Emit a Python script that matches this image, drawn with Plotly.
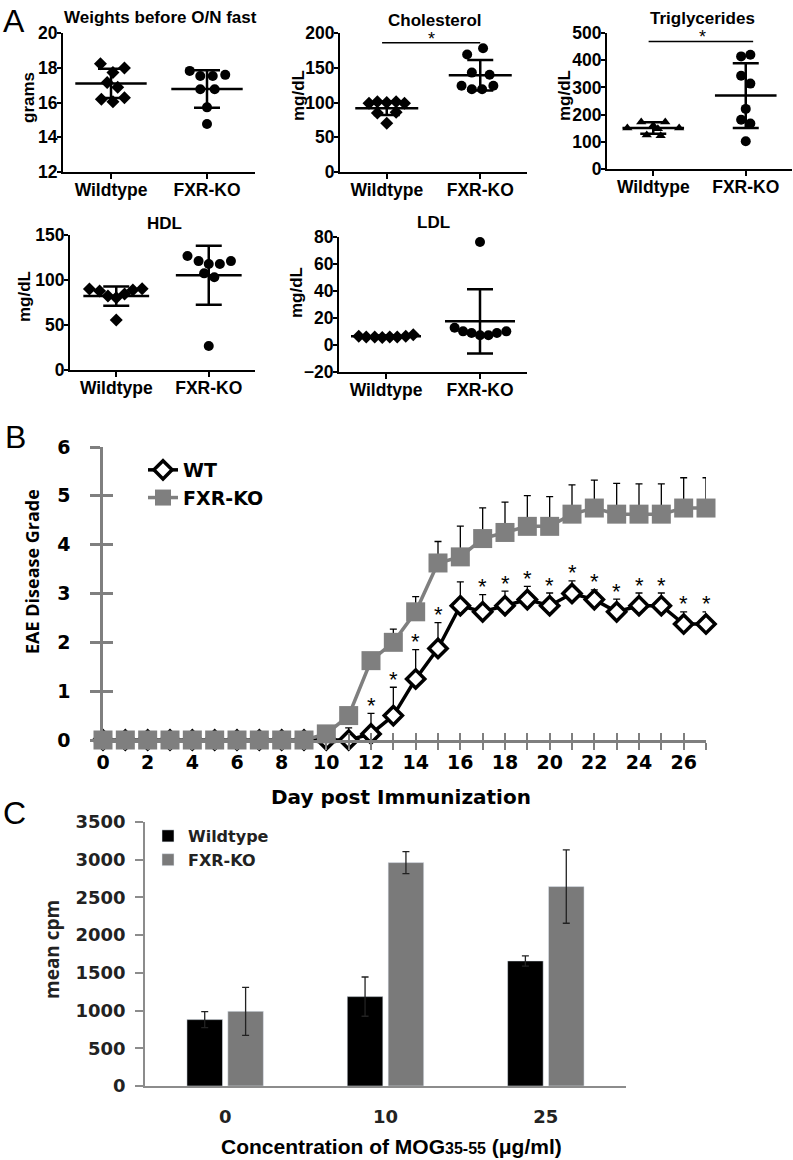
import plotly.graph_objects as go

W, H = 793, 1160

# ---------------- Panel A data ----------------
groups = ["Wildtype", "FXR-KO"]

wt_weight = [18.23, 17.98, 17.73, 17.15, 16.88, 16.18, 16.28, 16.05]
wt_weight_off = [-0.11, 0.14, 0.02, -0.04, 0.07, -0.10, 0.14, 0.02]
ko_weight = [17.82, 17.53, 17.53, 17.59, 16.76, 16.76, 15.72, 14.76]
ko_weight_off = [-0.18, -0.07, 0.06, 0.19, -0.07, 0.08, 0.0, 0.0]
weight_mean = [17.1, 16.78]
weight_sd = [0.84, 1.08]

wt_chol = [99, 101, 100, 101, 99, 85, 86, 70]
wt_chol_off = [-0.19, -0.10, 0.0, 0.10, 0.19, -0.10, 0.10, 0.0]
ko_chol = [178, 169, 143, 140, 124, 119, 119, 124]
ko_chol_off = [0.03, -0.14, -0.09, 0.10, -0.20, -0.09, 0.02, 0.14]
chol_mean = [91.6, 139.3]
chol_sd = [9.7, 22.0]

wt_tg = [151, 173, 160, 173, 151, 148, 125, 122]
wt_tg_off = [-0.28, -0.13, 0.0, 0.13, 0.28, 0.05, -0.07, 0.08]
ko_tg = [414, 420, 343, 314, 221, 181, 167, 102]
ko_tg_off = [-0.05, 0.05, -0.05, 0.05, 0.0, -0.05, 0.05, 0.0]
tg_mean = [151, 270]
tg_sd = [21, 119]

wt_hdl = [90.0, 87.8, 82.2, 80.4, 84.4, 88.9, 90.4, 55.6]
wt_hdl_off = [-0.29, -0.18, -0.09, 0.0, 0.09, 0.18, 0.28, 0.0]
ko_hdl = [126.7, 121.0, 117.8, 117.8, 121.0, 107.4, 103.0, 26.7]
ko_hdl_off = [-0.23, -0.11, 0.0, 0.12, 0.24, -0.05, 0.06, 0.0]
hdl_mean = [82.2, 105.2]
hdl_sd = [10.7, 32.8]

wt_ldl = [6.5, 6.0, 6.0, 5.5, 6.0, 6.0, 6.5, 7.5]
wt_ldl_off = [-0.29, -0.21, -0.12, -0.04, 0.04, 0.12, 0.21, 0.29]
ko_ldl = [12.8, 10.1, 8.9, 7.2, 7.2, 8.9, 10.1, 76.3]
ko_ldl_off = [-0.27, -0.18, -0.09, 0.0, 0.09, 0.18, 0.28, 0.0]
ldl_mean = [6.4, 17.5]
ldl_sd = [0.6, 23.8]

# ---------------- Panel B data ----------------
days = [0, 1, 2, 3, 4, 5, 6, 7, 8, 9, 10, 11, 12, 13, 14, 15, 16, 17, 18, 19,
        20, 21, 22, 23, 24, 25, 26, 27]
wt_grade = [0, 0, 0, 0, 0, 0, 0, 0, 0, 0, 0, 0, 0.125, 0.5, 1.25, 1.875, 2.75,
            2.625, 2.75, 2.875, 2.75, 3.0, 2.875, 2.625, 2.75, 2.75, 2.375, 2.375]
wt_grade_err = [0, 0, 0, 0, 0, 0, 0, 0, 0, 0, 0, 0.25, 0.42, 0.58, 0.60, 0.53,
                0.49, 0.35, 0.30, 0.27, 0.26, 0.26, 0.20, 0.26, 0.26, 0.26, 0.25, 0.25]
ko_grade = [0, 0, 0, 0, 0, 0, 0, 0, 0, 0, 0.125, 0.5, 1.625, 2.0, 2.625, 3.625,
            3.75, 4.125, 4.25, 4.375, 4.375, 4.625, 4.75, 4.625, 4.625, 4.625, 4.75, 4.75]
ko_grade_err = [0, 0, 0, 0, 0, 0, 0, 0, 0, 0, 0, 0, 0.15, 0.27, 0.31, 0.44, 0.63,
                0.63, 0.62, 0.63, 0.61, 0.60, 0.57, 0.63, 0.62, 0.62, 0.62, 0.62]
sig_days = [12, 13, 14, 15, 17, 18, 19, 20, 21, 22, 23, 24, 25, 26, 27]
b_xticks = [0, 2, 4, 6, 8, 10, 12, 14, 16, 18, 20, 22, 24, 26]

# ---------------- Panel C data ----------------
conc = ["0", "10", "25"]
wt_cpm = [880, 1185, 1658]
wt_cpm_err = [105, 260, 68]
ko_cpm = [990, 2962, 2644]
ko_cpm_err = [318, 146, 486]
sig_conc = ["10", "25"]

GRAY = "#7f7f7f"
ARIAL = "Liberation Sans"
CAL = "Open Sans"
WIDE = "DejaVu Sans"


def px(x):
    return x / W


def py(y):
    return 1 - y / H


fig = go.Figure()

# ---------------- Panel A ----------------
a_panels = [
    # (axis idx, wt vals, wt off, ko vals, ko off, mean, sd, wt symbol, xdom px, ydom px, range, dtick, mean-bar size)
    (1, wt_weight, wt_weight_off, ko_weight, ko_weight_off, weight_mean, weight_sd, "diamond",
     (63, 255), (33, 172), [12, 20], 2, 51),
    (2, wt_chol, wt_chol_off, ko_chol, ko_chol_off, chol_mean, chol_sd, "diamond",
     (340, 527), (33, 172), [0, 200], 50, 45),
    (3, wt_tg, wt_tg_off, ko_tg, ko_tg_off, tg_mean, tg_sd, "triangle-up",
     (607, 792), (33, 169), [0, 500], 100, 44),
    (4, wt_hdl, wt_hdl_off, ko_hdl, ko_hdl_off, hdl_mean, hdl_sd, "diamond",
     (70, 255), (235, 370), [0, 150], 50, 47),
    (5, wt_ldl, wt_ldl_off, ko_ldl, ko_ldl_off, ldl_mean, ldl_sd, "diamond",
     (339, 527), (237, 372), [-20, 80], 20, 50),
]

afont = dict(family=ARIAL, size=17.5, color="black", weight="bold")
for idx, wv, wo, kv, ko, mn, sd, wsym, xd, yd, rng, dt, msz in a_panels:
    xa = "x" if idx == 1 else f"x{idx}"
    ya = "y" if idx == 1 else f"y{idx}"
    fig.add_trace(go.Scatter(
        x=[0 + o for o in wo], y=wv, mode="markers", xaxis=xa, yaxis=ya,
        marker=dict(symbol=wsym, size=10 if wsym == "diamond" else 9, color="black"),
        showlegend=False, cliponaxis=False))
    fig.add_trace(go.Scatter(
        x=[1 + o for o in ko], y=kv, mode="markers", xaxis=xa, yaxis=ya,
        marker=dict(symbol="circle", size=10, color="black"),
        showlegend=False, cliponaxis=False))
    fig.add_trace(go.Scatter(
        x=[0, 1], y=mn, mode="markers", xaxis=xa, yaxis=ya,
        marker=dict(symbol="line-ew", size=msz, line=dict(width=2.5, color="black")),
        error_y=dict(type="data", array=sd, width=13, thickness=2.5, color="black"),
        showlegend=False, cliponaxis=False))
    xk = "xaxis" if idx == 1 else f"xaxis{idx}"
    yk = "yaxis" if idx == 1 else f"yaxis{idx}"
    fig.layout[xk] = dict(
        domain=[px(xd[0]), px(xd[1])], anchor=ya, range=[-0.5, 1.5],
        tickvals=[0, 1], ticktext=groups, showline=True, linecolor="black", linewidth=2,
        ticks="outside", ticklen=5, tickwidth=2, tickcolor="black", showgrid=False,
        zeroline=False, tickfont=afont, ticklabelstandoff=-4, automargin=False)
    fig.layout[yk] = dict(
        domain=[py(yd[1]), py(yd[0])], anchor=xa, range=rng, dtick=dt,
        showline=True, linecolor="black", linewidth=2, ticks="outside", ticklen=4,
        tickwidth=2, tickcolor="black", showgrid=False, zeroline=False,
        tickfont=afont, ticklabelstandoff=-4, automargin=False)

annotations = []
shapes = []

# significance bars in A
for xa, ya, yv, x0, x1, xs in [("x2", "y2", 186, -0.05, 1.0, 0.48),
                              ("x3", "y3", 469, -0.05, 1.08, 0.53)]:
    shapes.append(dict(type="line", xref=xa, yref=ya, x0=x0, x1=x1, y0=yv, y1=yv,
                       line=dict(color="black", width=1.5)))
    annotations.append(dict(xref=xa, yref=ya, x=xs, y=yv, text="*", showarrow=False,
                            yanchor="middle", yshift=4,
                            font=dict(family=ARIAL, size=18, color="black")))

a_titles = [("Weights before O/N fast", 160, 18), ("Cholesterol", 435, 20),
            ("Triglycerides", 702, 19), ("HDL", 164, 224), ("LDL", 433, 223)]
for t, x, y in a_titles:
    annotations.append(dict(xref="paper", yref="paper", x=px(x), y=py(y), text=t,
                            showarrow=False, xanchor="center", yanchor="middle",
                            font=dict(family=ARIAL, size=17, color="black", weight="bold")))
a_ytitles = [("grams", 28, 98), ("mg/dL", 299, 96), ("mg/dL", 565, 96),
             ("mg/dL", 24, 297), ("mg/dL", 297, 293)]
for t, x, y in a_ytitles:
    annotations.append(dict(xref="paper", yref="paper", x=px(x), y=py(y), text=t,
                            showarrow=False, textangle=-90, xanchor="center", yanchor="middle",
                            font=dict(family=ARIAL, size=17, color="black", weight="bold")))

# ---------------- Panel B ----------------
fig.add_trace(go.Scatter(
    x=days, y=wt_grade, mode="lines+markers", name="WT", xaxis="x6", yaxis="y6",
    line=dict(color="black", width=3.5),
    marker=dict(symbol="diamond", size=14, color="white", line=dict(color="black", width=3.5)),
    error_y=dict(type="data", symmetric=False, array=wt_grade_err,
                 arrayminus=[0] * len(wt_grade_err), color="black", thickness=1.3, width=3.5),
    cliponaxis=False, legend="legend"))
fig.add_trace(go.Scatter(
    x=days, y=ko_grade, mode="lines+markers", name="FXR-KO", xaxis="x6", yaxis="y6",
    line=dict(color=GRAY, width=3.5),
    marker=dict(symbol="square", size=19, color=GRAY),
    error_y=dict(type="data", symmetric=False, array=ko_grade_err,
                 arrayminus=[0] * len(ko_grade_err), color="black", thickness=1.3, width=3.5),
    cliponaxis=False, legend="legend"))
# overlay axes for crossing tick marks
fig.add_trace(go.Scatter(x=[], y=[], xaxis="x7", yaxis="y7", showlegend=False))

bxd = [px(103), px(706)]
byd = [py(740), py(447)]
bfont = dict(family=WIDE, size=19, color="black", weight="bold")
fig.layout["xaxis6"] = dict(domain=bxd, anchor="y6", range=[0, 27], tickvals=days,
                            ticktext=[str(d) if d in b_xticks else "" for d in days],
                            showline=True, linecolor=GRAY, linewidth=2.5, ticks="outside",
                            ticklen=7, tickwidth=2, tickcolor=GRAY, showgrid=False,
                            zeroline=False, tickfont=bfont, ticklabelstandoff=-4, automargin=False)
fig.layout["yaxis6"] = dict(domain=byd, anchor="x6", range=[0, 6], dtick=1,
                            showline=True, linecolor=GRAY, linewidth=2.5, ticks="outside",
                            ticklen=10, tickwidth=2.5, tickcolor=GRAY, showgrid=False,
                            zeroline=False, tickfont=bfont, ticklabelstandoff=16, automargin=False)
fig.layout["xaxis7"] = dict(domain=bxd, anchor="y7", overlaying="x6", range=[0, 27],
                            dtick=1, showline=False, ticks="inside", ticklen=7, tickwidth=2,
                            tickcolor=GRAY, showticklabels=False, showgrid=False, zeroline=False)
fig.layout["yaxis7"] = dict(domain=byd, anchor="x7", overlaying="y6", range=[0, 6], dtick=1,
                            showline=False, ticks="inside", ticklen=10, tickwidth=2.5,
                            tickcolor=GRAY, showticklabels=False, showgrid=False, zeroline=False)

for d in sig_days:
    i = days.index(d)
    annotations.append(dict(xref="x6", yref="y6", x=d, y=wt_grade[i] + wt_grade_err[i],
                            text="*", showarrow=False, yanchor="middle", yshift=8,
                            font=dict(family=ARIAL, size=22, color="black")))

annotations.append(dict(xref="paper", yref="paper", x=px(32), y=py(572), text="EAE Disease Grade",
                        showarrow=False, textangle=-90, xanchor="center", yanchor="middle",
                        font=dict(family=CAL, size=18, color="black", weight="bold")))
annotations.append(dict(xref="paper", yref="paper", x=px(401), y=py(797),
                        text="Day post Immunization", showarrow=False,
                        xanchor="center", yanchor="middle",
                        font=dict(family=WIDE, size=20, color="black", weight="bold")))

# ---------------- Panel C ----------------
fig.add_trace(go.Bar(
    x=conc, y=wt_cpm, name="Wildtype", xaxis="x8", yaxis="y8", marker=dict(color="black"),
    error_y=dict(type="data", array=wt_cpm_err, color="#222222", thickness=1.3, width=3.5),
    legend="legend2"))
fig.add_trace(go.Bar(
    x=conc, y=ko_cpm, name="FXR-KO", xaxis="x8", yaxis="y8", marker=dict(color="#7a7a7a"),
    error_y=dict(type="data", array=ko_cpm_err, color="#222222", thickness=1.3, width=3.5),
    legend="legend2"))

cfont = dict(family=WIDE, size=18, color="#222222", weight="bold")
fig.layout["xaxis8"] = dict(domain=[px(145), px(626)], anchor="y8", range=[-0.5, 2.5],
                            showline=True, linecolor="#8c8c8c", linewidth=1.5, ticks="",
                            showgrid=False, zeroline=False, tickfont=cfont, ticklabelstandoff=14,
                            automargin=False)
fig.layout["yaxis8"] = dict(domain=[py(1086), py(822)], anchor="x8", range=[0, 3500],
                            dtick=500, showline=True, linecolor="#8c8c8c", linewidth=1.5,
                            ticks="outside", ticklen=8, tickwidth=1.5, tickcolor="#8c8c8c",
                            showgrid=False, zeroline=False, tickfont=cfont, ticklabelstandoff=6,
                            automargin=False)

for c in sig_conc:
    i = conc.index(c)
    annotations.append(dict(xref="x8", yref="y8", x=c, y=wt_cpm[i] + wt_cpm_err[i],
                            text="*", showarrow=False, yanchor="middle", xshift=-20, yshift=16,
                            font=dict(family=ARIAL, size=28, color="black")))

annotations.append(dict(xref="paper", yref="paper", x=px(52), y=py(950), text="mean cpm",
                        showarrow=False, textangle=-90, xanchor="center", yanchor="middle",
                        font=dict(family=CAL, size=19, color="#222222", weight="bold")))
annotations.append(dict(xref="paper", yref="paper", x=px(391), y=py(1146),
                        text="Concentration of MOG<span style='font-size:16px'>35-55</span> (μg/ml)",
                        showarrow=False, xanchor="center", yanchor="middle",
                        font=dict(family=ARIAL, size=21, color="black", weight="bold")))

# panel letters
for t, x, y in [("A", 14, 21), ("B", 15, 437), ("C", 14, 813)]:
    annotations.append(dict(xref="paper", yref="paper", x=px(x), y=py(y), text=t,
                            showarrow=False, xanchor="center", yanchor="middle",
                            font=dict(family=ARIAL, size=32, color="black")))

fig.update_layout(
    width=W, height=H, margin=dict(l=0, r=0, t=0, b=0, pad=0, autoexpand=False),
    paper_bgcolor="white", plot_bgcolor="white",
    annotations=annotations, shapes=shapes,
    legend=dict(x=px(143), y=py(451), xanchor="left", yanchor="top",
                bgcolor="rgba(0,0,0,0)", tracegroupgap=0,
                font=dict(family=WIDE, size=19, color="black", weight="bold")),
    legend2=dict(x=px(148), y=py(819), xanchor="left", yanchor="top",
                 bgcolor="rgba(0,0,0,0)", tracegroupgap=0,
                 font=dict(family=WIDE, size=16, color="#222222", weight="bold")),
    barmode="group", bargap=0.49, bargroupgap=0.13,
)

fig.write_html("out.html", config={"displayModeBar": False},
               post_script="document.body.style.margin='0px';")
